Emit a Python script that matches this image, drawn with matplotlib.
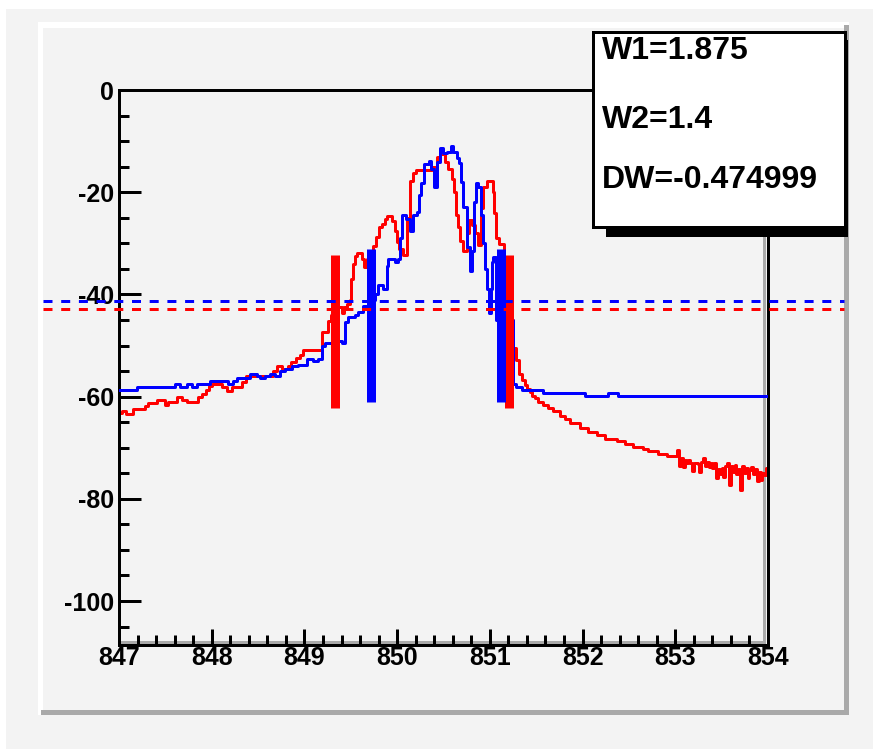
import matplotlib.pyplot as plt
import matplotlib.patches as mpatches
from matplotlib.ticker import MultipleLocator
import numpy as np

plt.rcParams['font.family'] = ['Liberation Sans', 'DejaVu Sans']
plt.rcParams['font.weight'] = 'bold'
plt.rcParams['axes.unicode_minus'] = False

W, H = 873, 749
PX = 72 / 100  # points per pixel at dpi=100

# blue spectrum, step starts (MHz) and levels (dB)
blue_x = [847.000, 847.194, 847.604, 847.658, 847.734, 847.788, 847.841, 847.982, 848.180, 848.230,
          848.273, 848.413, 848.489, 848.521, 848.575, 848.629, 848.683, 848.737, 848.791, 848.866,
          848.931, 849.028, 849.093, 849.147, 849.190, 849.222, 849.362, 849.410, 849.438, 849.470,
          849.546, 849.578, 849.632, 849.690, 849.762, 849.794, 849.850, 849.891, 849.902, 849.977,
          850.010, 850.031, 850.053, 850.096, 850.139, 850.172, 850.215, 850.240, 850.260, 850.290,
          850.344, 850.370, 850.400, 850.430, 850.463, 850.495, 850.538, 850.581, 850.603, 850.646,
          850.665, 850.690, 850.711, 850.750, 850.790, 850.810, 850.830, 850.850, 850.875, 850.905,
          850.930, 850.950, 850.970, 850.990, 851.010, 851.020, 851.035, 851.070, 851.250, 851.283,
          851.347, 851.574, 852.027, 852.275, 852.383, 854.000]
blue_y = [-58.7, -58.1, -57.5, -58.1, -57.5, -58.1, -57.5, -56.9, -57.5, -56.9,
          -56.3, -55.6, -55.9, -56.3, -55.9, -55.6, -55.9, -55.0, -54.6, -54.0,
          -53.8, -52.6, -53.0, -52.6, -50.1, -49.5, -49.1, -49.5, -45.4, -44.4,
          -44.0, -43.4, -42.2, -41.0, -40.0, -38.2, -39.0, -34.5, -33.1, -33.7,
          -33.1, -28.9, -24.4, -25.3, -27.5, -24.5, -23.8, -20.5, -18.1, -14.4,
          -13.8, -15.5, -18.9, -14.0, -11.3, -12.3, -12.1, -10.9, -12.1, -13.3,
          -14.2, -18.0, -22.8, -30.8, -35.5, -31.5, -22.0, -18.1, -18.9, -24.5,
          -30.0, -35.0, -39.0, -43.6, -39.0, -33.7, -32.7, -45.0, -57.5, -58.1,
          -58.7, -59.3, -59.8, -59.3, -59.8, -59.8]

# red spectrum up to 853 MHz
red_x = [847.000, 847.030, 847.080, 847.150, 847.280, 847.315, 847.410, 847.495, 847.530, 847.625,
         847.680, 847.735, 847.850, 847.895, 847.935, 847.970, 848.000, 848.110, 848.160, 848.220,
         848.330, 848.370, 848.660, 848.700, 848.760, 848.820, 848.860, 848.910, 848.950, 848.980,
         849.190, 849.255, 849.290, 849.362, 849.400, 849.430, 849.460, 849.490, 849.500, 849.525,
         849.545, 849.567, 849.621, 849.640, 849.675, 849.740, 849.770, 849.800, 849.840, 849.870,
         849.890, 849.945, 849.980, 850.000, 850.020, 850.060, 850.107, 850.139, 850.172, 850.204,
         850.377, 850.430, 850.463, 850.517, 850.549, 850.592, 850.614, 850.635, 850.655, 850.680,
         850.711, 850.750, 850.770, 850.810, 850.840, 850.873, 850.905, 850.927, 850.970, 851.035,
         851.050, 851.067, 851.100, 851.150, 851.250, 851.283, 851.315, 851.347, 851.380, 851.401,
         851.434, 851.455, 851.488, 851.520, 851.574, 851.628, 851.682, 851.757, 851.811, 851.865,
         851.973, 852.059, 852.156, 852.243, 852.372, 852.458, 852.545, 852.650, 852.707, 852.814,
         852.912]
red_y = [-63.2, -62.8, -63.4, -62.4, -61.8, -61.2, -60.7, -61.6, -61.0, -60.0,
         -60.6, -61.0, -60.0, -59.4, -58.8, -58.0, -57.6, -58.1, -58.9, -58.2,
         -57.2, -56.0, -55.0, -54.1, -54.6, -54.0, -53.3, -52.5, -51.9, -50.9,
         -47.4, -45.2, -44.0, -42.5, -43.7, -42.5, -41.9, -41.0, -37.0, -34.0,
         -32.5, -31.8, -33.0, -34.6, -33.0, -30.5, -28.8, -26.9, -26.3, -25.3,
         -24.7, -25.7, -27.5, -29.8, -31.2, -32.3, -25.0, -17.9, -16.2, -15.6,
         -15.0, -13.1, -12.5, -14.0, -15.5, -17.5, -20.0, -24.5, -26.9, -29.5,
         -31.6, -28.0, -25.5, -26.5, -27.9, -30.4, -23.0, -18.9, -17.9, -20.0,
         -24.0, -29.0, -30.2, -45.0, -50.5, -52.8, -55.5, -56.8, -57.8, -58.6,
         -59.1, -59.8, -60.3, -61.0, -61.6, -62.2, -62.9, -63.7, -64.3, -65.2,
         -66.2, -67.0, -67.6, -68.2, -68.6, -69.3, -69.8, -70.3, -70.6, -71.2,
         -71.6]

# noisy red tail, 0.02 MHz bins from 853 to 854
tail_x = np.round(np.arange(853.0, 854.0, 0.02), 2)
tail_y = [-71.6, -70.5, -73.6, -72.0, -73.8, -72.4, -72.9, -72.4, -73.0, -74.6,
          -73.0, -72.9, -73.2, -74.7, -72.8, -72.0, -73.6, -72.8, -73.8, -73.0,
          -73.9, -72.9, -75.9, -74.2, -75.1, -74.0, -75.8, -73.6, -72.9, -77.2,
          -73.6, -74.8, -73.4, -75.2, -74.2, -78.2, -73.5, -75.0, -74.0, -76.0,
          -74.4, -73.8, -75.1, -74.2, -76.6, -74.8, -76.4, -75.0, -75.4, -73.9]
red_end = (854.0, -78.5)

# threshold levels and edge markers
red_level = -42.9
blue_level = -41.2
red_left, W1 = 849.33, 1.875
blue_left, W2 = 849.715, 1.4
DW = -0.474999
red_bar = (-62.2, -32.3)
blue_bar = (-61.0, -31.1)

x_ticks = [847, 848, 849, 850, 851, 852, 853, 854]
y_ticks = [0, -20, -40, -60, -80, -100]

fig = plt.figure(figsize=(W / 100, H / 100), dpi=100)
fig.patch.set_facecolor('white')

# canvas background drawn in pixel coordinates
bg = fig.add_axes([0, 0, 1, 1], zorder=0)
bg.set_xlim(0, W)
bg.set_ylim(H, 0)
bg.axis('off')
canvas_gray = '#f3f3f3'
bevel_gray = '#a9a9a9'
bg.add_patch(mpatches.Rectangle((6, 9), W, H, color=canvas_gray, lw=0))
bg.add_patch(mpatches.Rectangle((38, 22), 811, 6, color='white', lw=0))
bg.add_patch(mpatches.Rectangle((38, 22), 5, 693, color='white', lw=0))
bg.add_patch(mpatches.Rectangle((41, 710), 808, 5, color=bevel_gray, lw=0))
bg.add_patch(mpatches.Rectangle((844, 25), 5, 690, color=bevel_gray, lw=0))
# inner shading of the frame
bg.add_patch(mpatches.Rectangle((763, 90), 3, 554, color=bevel_gray, lw=0))
bg.add_patch(mpatches.Rectangle((120, 641), 645, 3, color=bevel_gray, lw=0))

ax = fig.add_axes([119 / W, (H - 645) / H, 649 / W, 555 / H], zorder=1)
ax.set_facecolor('none')

rx = red_x + list(tail_x) + [red_end[0]]
ry = red_y + tail_y + [red_end[1]]
ax.step(rx, ry, where='post', color='#ff0000', lw=3 * PX, zorder=2)
ax.step(blue_x, blue_y, where='post', color='#0000ff', lw=3 * PX, zorder=3)

for xb in (red_left, red_left + W1):
    ax.plot([xb, xb], red_bar, color='#ff0000', lw=9 * PX, solid_capstyle='butt', zorder=4)
for xb in (blue_left, blue_left + W2):
    ax.plot([xb, xb], blue_bar, color='#0000ff', lw=9 * PX, solid_capstyle='butt', zorder=4)

xa0, xa1 = (43 - 119) / 649, (844 - 119) / 649
ax.axhline(blue_level, xa0, xa1, color='#0000ff', lw=3 * PX, ls=(0, (3, 2.9)),
           clip_on=False, zorder=5)
ax.axhline(red_level, xa0, xa1, color='#ff0000', lw=3 * PX, ls=(0, (3, 2.9)),
           clip_on=False, zorder=5)

ax.set_xlim(847, 854)
ax.set_ylim(-108.6, 0)
ax.set_xticks(x_ticks)
ax.set_yticks(y_ticks)
ax.set_xticklabels([str(t) for t in x_ticks])
ax.set_yticklabels([str(t) for t in y_ticks])
ax.xaxis.set_minor_locator(MultipleLocator(0.2))
ax.yaxis.set_minor_locator(MultipleLocator(5))
ax.tick_params(axis='both', which='both', direction='in', width=3 * PX, color='black',
               top=False, right=False, labelsize=18)
ax.tick_params(axis='x', which='major', length=16 * PX, pad=1)
ax.tick_params(axis='y', which='major', length=22 * PX, pad=3.5)
ax.tick_params(axis='both', which='minor', length=10 * PX)
for s in ax.spines.values():
    s.set_linewidth(3 * PX)
    s.set_color('black')

# statistics box
top = fig.add_axes([0, 0, 1, 1], zorder=2)
top.set_xlim(0, W)
top.set_ylim(H, 0)
top.axis('off')
top.add_patch(mpatches.Rectangle((606, 40), 242, 197, color='black', lw=0))
top.add_patch(mpatches.Rectangle((592.5, 31.5), 252, 195, facecolor='white',
                                 edgecolor='black', lw=3 * PX))
labels = [f'W1={W1:g}', f'W2={W2:g}', f'DW={DW:g}']
for txt, yb in zip(labels, (59, 128, 188)):
    top.text(602, yb, txt, fontsize=23, fontweight='bold', ha='left', va='baseline')

fig.savefig('out.png', dpi=100)
